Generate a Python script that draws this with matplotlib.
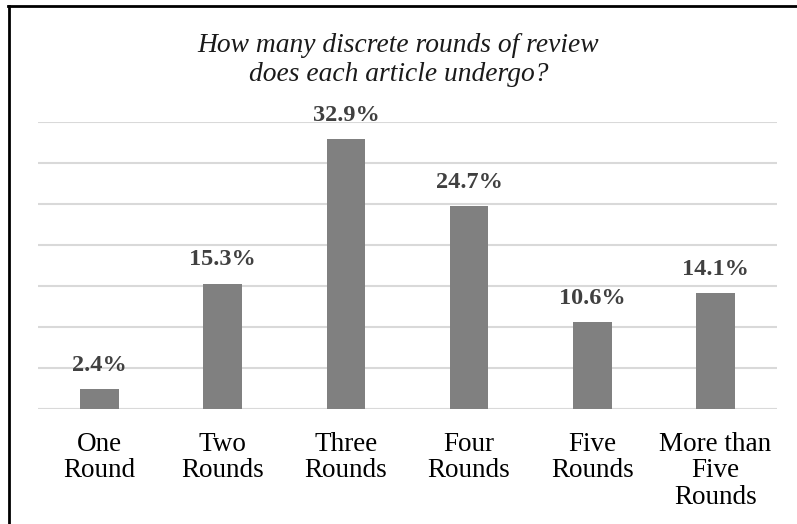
import numpy as np
import matplotlib.pyplot as plt
from matplotlib.lines import Line2D

categories = ['One\nRound', 'Two\nRounds', 'Three\nRounds', 'Four\nRounds',
              'Five\nRounds', 'More than\nFive\nRounds']
percentages = [2.4, 15.3, 32.9, 24.7, 10.6, 14.1]

plt.rcParams['font.family'] = ['Liberation Serif', 'DejaVu Serif']

fig = plt.figure(figsize=(7.97, 5.24), dpi=100)
W, H = 797, 524
ax = fig.add_axes([38 / W, 1 - 409 / H, (777 - 38) / W, (409 - 122) / H])

x = np.arange(len(categories))
bars = ax.bar(x, percentages, width=0.315, color='#808080', zorder=3)

ax.set_xlim(-0.5, len(categories) - 0.5)
ax.set_ylim(0, 35)
ax.set_yticks(np.arange(0, 36, 5))
ax.yaxis.grid(True, color='#d9d9d9', linewidth=1.5, zorder=0)
ax.tick_params(axis='y', left=False, labelleft=False)
ax.tick_params(axis='x', bottom=False, pad=13)
ax.set_xticks(x)
ax.set_xticklabels(categories, fontsize=19.5, linespacing=1.07)
for s in ax.spines.values():
    s.set_visible(False)
ax.axhline(0, color='#d9d9d9', linewidth=2.2, zorder=2)

# value labels above bars
for xi, v in zip(x, percentages):
    ax.annotate(f'{v}%', (xi, v), xytext=(0, 13), textcoords='offset points',
                ha='center', va='baseline', fontsize=17.5, fontweight='bold',
                color='#404040')

fig.text(0.5, 1 - 60 / H, 'How many discrete rounds of review\ndoes each article undergo?',
         ha='center', va='center', fontsize=19.8, style='italic', color='#1a1a1a',
         linespacing=1.25)

# frame round the chart (left and top edges)
fig.add_artist(Line2D([9 / W, 9 / W], [0, 1 - 6 / H], color='black', linewidth=2,
                      transform=fig.transFigure))
fig.add_artist(Line2D([8 / W, 1], [1 - 6 / H, 1 - 6 / H], color='black', linewidth=2,
                      transform=fig.transFigure))

fig.savefig('out.png', dpi=100)
